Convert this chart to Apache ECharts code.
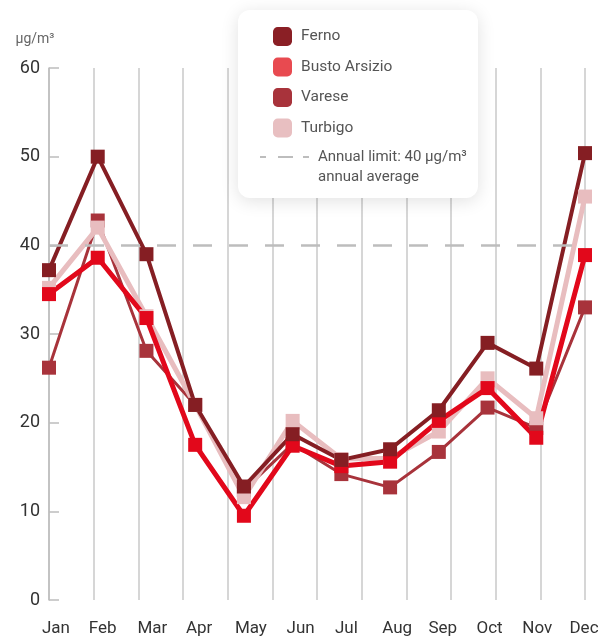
<!DOCTYPE html>
<html>
<head>
<meta charset="utf-8">
<script src="https://cdn.jsdelivr.net/npm/echarts@6/dist/echarts.min.js"></script>
<style>
  html, body { margin: 0; padding: 0; background: #fff; }
  #chart { width: 605px; height: 639px; }
</style>
</head>
<body>
<div id="chart"></div>
<script>
// monthly NO2 values, µg/m³
const MONTHS = ['Jan', 'Feb', 'Mar', 'Apr', 'May', 'Jun', 'Jul', 'Aug', 'Sep', 'Oct', 'Nov', 'Dec'];
const FERNO   = [37.2, 50.0, 39.0, 22.0, 12.8, 18.7, 15.8, 17.0, 21.4, 29.0, 26.1, 50.4];
const BUSTO   = [34.5, 38.6, 31.8, 17.5,  9.5, 17.4, 15.1, 15.6, 20.2, 23.9, 18.3, 38.9];
const VARESE  = [26.2, 42.8, 28.1, 22.0, 12.4, 17.6, 14.2, 12.7, 16.7, 21.7, 19.4, 33.0];
const TURBIGO = [35.2, 42.0, 32.0, 22.0, 11.6, 20.2, 15.9, 16.0, 19.0, 25.0, 20.5, 45.5];
const Y_TICKS = { min: 0, max: 60, step: 10 };
const LIMIT = 40;
const LIMIT_NAME = 'Annual limit';
const LIMIT_LABEL = 'Annual limit: 40 µg/m³\nannual average';

const FONT = 'Roboto';
// month labels in the original sit a few px off their ticks
const LABEL_NUDGE = [7, 5, 6, 4, 7, 8, 5, 7, 4, 2, 1, -1];

const c = echarts.init(document.getElementById('chart'), null, { renderer: 'canvas' });

function lineSeries(name, data, color, width) {
  return {
    name, data, type: 'line',
    symbol: 'rect', symbolSize: 14, showSymbol: true,
    itemStyle: { color },
    lineStyle: { color, width },
    emphasis: { disabled: true },
  };
}

const monthRich = {};
LABEL_NUDGE.forEach((s, i) => {
  monthRich['m' + i] = {
    color: '#333', fontSize: 17, fontFamily: FONT,
    padding: s >= 0 ? [0, 0, 0, 2 * s] : [0, -2 * s, 0, 0],
  };
});

c.setOption({
  animation: false,
  textStyle: { fontFamily: FONT },
  grid: { left: 49, right: 20, top: 68, bottom: 39 },
  graphic: [{
    type: 'rect', z: 3,
    shape: { x: 238, y: 10, width: 240, height: 188, r: 12 },
    style: { fill: '#fff', shadowBlur: 18, shadowColor: 'rgba(0,0,0,0.12)', shadowOffsetY: 3 },
  }],
  legend: [{
    z: 5,
    orient: 'vertical', left: 268, top: 22,
    itemWidth: 19, itemHeight: 19, itemGap: 11.5,
    icon: 'roundRect',
    textStyle: { color: '#555', fontSize: 15.5, fontFamily: FONT, padding: [0, 0, 0, 4] },
    data: [
      { name: 'Ferno', itemStyle: { color: '#8A1F25' } },
      { name: 'Busto Arsizio', itemStyle: { color: '#E84A50' } },
      { name: 'Varese', itemStyle: { color: '#A8333B' } },
      { name: 'Turbigo', itemStyle: { color: '#E8BFC1' } },
    ],
  }, {
    z: 5,
    orient: 'vertical', left: 255, top: 142,
    itemWidth: 49, itemHeight: 22,
    textStyle: { color: '#555', fontSize: 15, fontFamily: FONT, lineHeight: 20, padding: [0, 0, 0, 4] },
    formatter: () => LIMIT_LABEL,
    data: [{
      name: LIMIT_NAME,
      // dashes on top; the tiny dot at the bottom pins the dashes to the first text line
      icon: 'path://M0,0h6v2h-6z M18,0h15v2h-15z M43,0h6v2h-6z M48.9,21.9h0.1v0.1h-0.1z',
      itemStyle: { color: '#BDBDBD' },
    }],
  }],
  xAxis: [{
    type: 'category', data: MONTHS, boundaryGap: false,
    axisLine: { show: false }, axisTick: { show: false }, splitLine: { show: false },
    axisLabel: {
      color: '#333', fontSize: 17, margin: 20, interval: 0,
      formatter: (v, i) => `{m${i}|${v}}`,
      rich: monthRich,
    },
  }, {
    // vertical guide lines (13 evenly spaced)
    type: 'value', min: 0, max: 12, interval: 1, position: 'bottom',
    axisLine: { show: false }, axisTick: { show: false }, axisLabel: { show: false },
    splitLine: { show: true, lineStyle: { color: '#C8C8C8', width: 1.5 } },
  }],
  yAxis: {
    type: 'value', min: Y_TICKS.min, max: Y_TICKS.max, interval: Y_TICKS.step,
    name: 'µg/m³', nameLocation: 'end', nameGap: 22,
    nameTextStyle: { color: '#666', fontSize: 14, align: 'center', padding: [0, 28, 0, 0] },
    axisLine: { show: true, lineStyle: { color: '#BDBDBD', width: 1.5 } },
    axisTick: { show: true, inside: true, length: 10, lineStyle: { color: '#BDBDBD', width: 1.5 } },
    splitLine: { show: false },
    axisLabel: { color: '#333', fontSize: 18, margin: 9, padding: [6, 0, 0, 0] },
  },
  series: [
    lineSeries('Varese', VARESE, '#A8333B', 3),
    lineSeries('Turbigo', TURBIGO, '#E8BDBF', 5),
    lineSeries('Busto Arsizio', BUSTO, '#E2081B', 5),
    lineSeries('Ferno', FERNO, '#851E23', 4),
    {
      name: LIMIT_NAME, type: 'line', data: [],
      itemStyle: { color: '#BDBDBD' },
      markLine: {
        silent: true, symbol: 'none', label: { show: false },
        lineStyle: { color: '#BDBDBD', width: 2.5, type: [19, 17] },
        data: [{ yAxis: LIMIT }],
      },
    },
  ],
});
</script>
</body>
</html>
